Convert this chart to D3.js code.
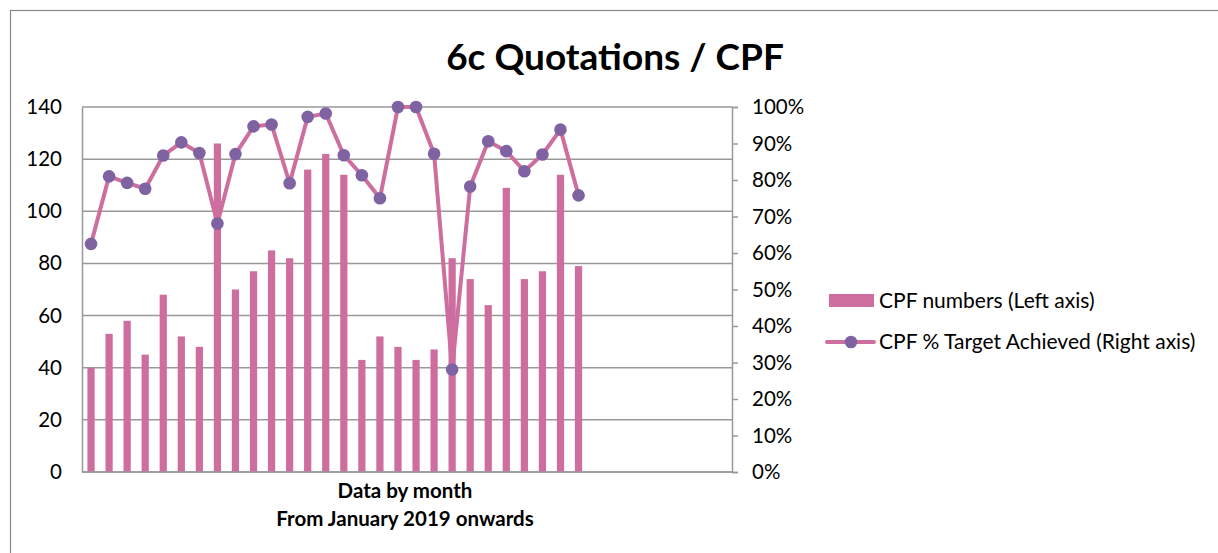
<!DOCTYPE html>
<html><head><meta charset="utf-8">
<script src="https://cdn.jsdelivr.net/npm/d3@7"></script>
<style>body{margin:0;background:#fff;} text{font-family:Lato, "Open Sans", sans-serif;}</style>
</head><body>
<svg id="c" width="1218" height="553"></svg>
<script>
const months = d3.range(36).map(i => "M" + (i + 1)); // Jan 2019 .. Dec 2021
const cpfNumbers = [40,53,58,45,68,52,48,126,70,77,85,82,116,122,114,43,52,48,43,47,82,74,64,109,74,77,114,79];
const cpfPct = [62.5,81,79.2,77.6,86.7,90.3,87.4,68.1,87.1,94.7,95.2,79.1,97.3,98.2,86.8,81.3,75,100,100,87.2,28.1,78.2,90.6,87.9,82.4,87,93.8,75.8];
const leftTicks = [0,20,40,60,80,100,120,140];
const rightTicks = [0,10,20,30,40,50,60,70,80,90,100];
const title = "6c Quotations / CPF";
const xTitle = ["Data by month", "From January 2019 onwards"];
const legendLabels = ["CPF numbers (Left axis)", "CPF % Target Achieved (Right axis)"];

const barColor = "#CD6E9F", markColor = "#7F62A1", gridColor = "#999";
const svg = d3.select("#c");
const L = 82, R = 732, T = 107, B = 472;

svg.append("rect").attr("x",10.5).attr("y",10.5).attr("width",1230).attr("height",560)
  .attr("fill","none").attr("stroke","#888").attr("stroke-width",1.2);

const x = d3.scaleBand().domain(months).range([L,R]).paddingInner(0.6).paddingOuter(0.3);
const yL = d3.scaleLinear().domain([0,140]).range([B,T]);
const yR = d3.scaleLinear().domain([0,100]).range([B,T]);

// gridlines
svg.append("g").selectAll("line").data(leftTicks).join("line")
  .attr("x1",L).attr("x2",R).attr("y1",d=>yL(d)).attr("y2",d=>yL(d))
  .attr("stroke",gridColor).attr("stroke-width",1.5);

// left axis
const gl = svg.append("g").attr("transform",`translate(${L},0)`)
  .call(d3.axisLeft(yL).tickValues(leftTicks).tickSize(0).tickPadding(20));
gl.select(".domain").attr("stroke",gridColor).attr("stroke-width",1.5);
gl.selectAll("text").attr("font-size",20.5).attr("fill","#000");

// right axis
const gr = svg.append("g").attr("transform",`translate(${R},0)`)
  .call(d3.axisRight(yR).tickValues(rightTicks).tickSize(6).tickPadding(14).tickFormat(d=>d+"%"));
gr.select(".domain").attr("stroke",gridColor).attr("stroke-width",1.5);
gr.selectAll(".tick line").attr("stroke",gridColor).attr("stroke-width",1.5);
gr.selectAll("text").attr("font-size",20.5).attr("fill","#000");

// bars
const data = cpfNumbers.map((v,i)=>({m:months[i], v, p:cpfPct[i]}));
svg.append("g").selectAll("rect").data(data).join("rect")
  .attr("x",d=>x(d.m)).attr("width",x.bandwidth())
  .attr("y",d=>yL(d.v)).attr("height",d=>yL(0)-yL(d.v)).attr("fill",barColor);

// bottom axis line
svg.append("line").attr("x1",L).attr("x2",R).attr("y1",B).attr("y2",B)
  .attr("stroke",gridColor).attr("stroke-width",1.5);

// line
const cx = d => x(d.m) + x.bandwidth()/2;
svg.append("path").datum(data)
  .attr("d", d3.line().x(cx).y(d=>yR(d.p)))
  .attr("fill","none").attr("stroke",barColor).attr("stroke-width",4).attr("stroke-linejoin","round");
svg.append("g").selectAll("circle").data(data).join("circle")
  .attr("cx",cx).attr("cy",d=>yR(d.p)).attr("r",6.3).attr("fill",markColor);

// title
svg.append("text").attr("x",615).attr("y",70).attr("text-anchor","middle")
  .attr("font-size",37).attr("font-weight","bold").text(title);

// x title
svg.selectAll(".xt").data(xTitle).join("text").attr("class","xt")
  .attr("x",405).attr("y",(d,i)=>498+i*28).attr("text-anchor","middle")
  .attr("font-size",20.5).attr("font-weight","bold").text(d=>d);

// legend
const lg = svg.append("g");
lg.append("rect").attr("x",829).attr("y",294).attr("width",45).attr("height",13).attr("fill",barColor);
lg.append("line").attr("x1",827).attr("x2",874).attr("y1",342).attr("y2",342)
  .attr("stroke",barColor).attr("stroke-width",4).attr("stroke-linecap","round");
lg.append("circle").attr("cx",851).attr("cy",342).attr("r",6.3).attr("fill",markColor);
lg.selectAll("text").data(legendLabels).join("text")
  .attr("x",879).attr("y",(d,i)=>308+i*41).attr("font-size",21).text(d=>d);
</script>
</body></html>
